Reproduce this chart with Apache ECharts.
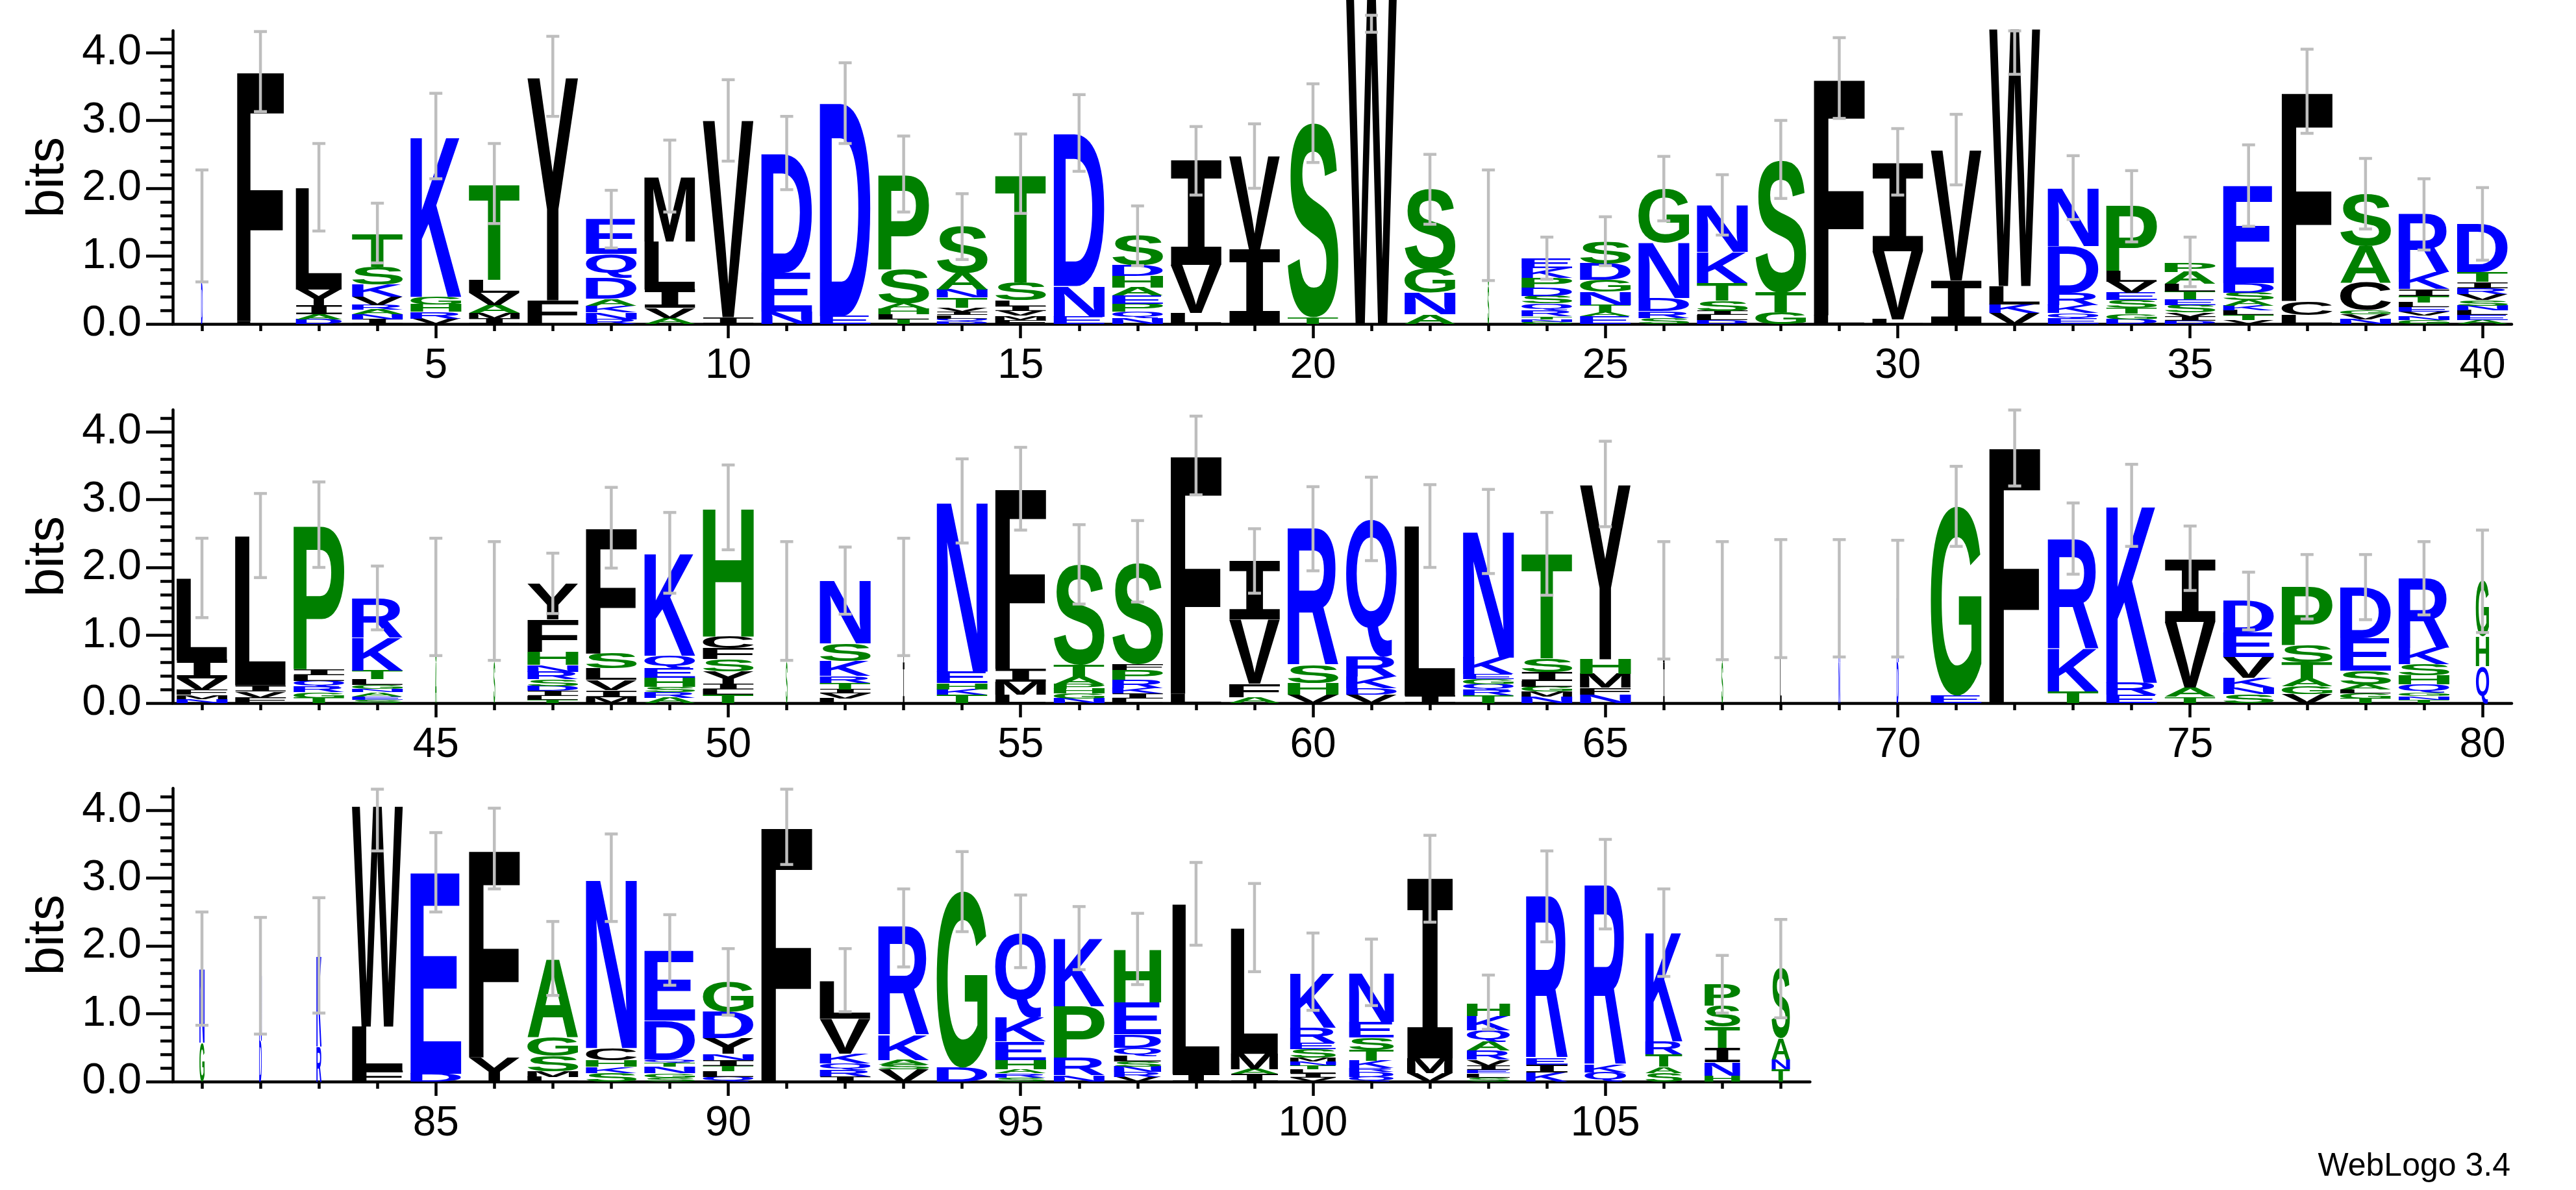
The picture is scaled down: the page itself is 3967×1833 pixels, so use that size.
<!DOCTYPE html>
<html><head><meta charset="utf-8">
<script src="https://cdn.jsdelivr.net/npm/echarts@6/dist/echarts.min.js"></script>
<style>html,body{margin:0;padding:0;background:#fff}#chart{width:3967px;height:1833px}</style>
</head><body><div id="chart"></div>
<script>
const row1Positions = [1,2,3,4,5,6,7,8,9,10,11,12,13,14,15,16,17,18,19,20,21,22,23,24,25,26,27,28,29,30,31,32,33,34,35,36,37,38,39,40];
const row2Positions = [41,42,43,44,45,46,47,48,49,50,51,52,53,54,55,56,57,58,59,60,61,62,63,64,65,66,67,68,69,70,71,72,73,74,75,76,77,78,79,80];
const row3Positions = [81,82,83,84,85,86,87,88,89,90,91,92,93,94,95,96,97,98,99,100,101,102,103,104,105,106,107,108];

// letters of each stack, bottom -> top
const row1Letters = ["DG","LF","DAIYL","INARVKST","VRHGK","IMAVLT","FY","RNKADQE","AVILM","IV","NED","ED","TLHASP","DQLIVTNAS","FMVILST","END","NQPEAHDS","LVI","IV","TS","W","ANGS","SG","GNTRQSDPKE","EATNGDS","SRDNG","DLISTKN","GTS","LF","LVI","IV","VKLW","EQKRDN","DGTSEVLP","DIVSETLAP","VTLKASDE","LCF","NVGCAS","GNVELTIKR","AELNSVRITD"];
const row1Heights = [[0.6,0.85],[0.04,3.69],[0.07,0.07,0.13,0.24,1.49],[0.07,0.07,0.07,0.07,0.12,0.18,0.26,0.48],[0.08,0.1,0.11,0.11,2.36],[0.08,0.08,0.12,0.18,0.19,1.41],[0.35,3.28],[0.07,0.1,0.1,0.1,0.31,0.35,0.51],[0.09,0.15,0.27,0.71,0.945],[0.1,2.9],[0.18,0.575,1.75],[0.12,3.13],[0.07,0.07,0.08,0.08,0.5,1.39],[0.04,0.04,0.05,0.05,0.06,0.15,0.12,0.24,0.69],[0.06,0.06,0.07,0.07,0.09,0.26,1.575],[0.11,0.45,2.24],[0.09,0.09,0.12,0.117,0.117,0.176,0.154,0.44],[0.16,0.71,1.54],[1.1,1.37],[0.1,2.86],[4.85],[0.14,0.32,0.35,1.18],[0.55,0.88],[0.03,0.04,0.04,0.09,0.1,0.11,0.125,0.146,0.146,0.14],[0.11,0.06,0.11,0.2,0.17,0.24,0.33],[0.09,0.1,0.19,0.81,0.79],[0.06,0.07,0.06,0.15,0.26,0.46,0.685],[0.17,0.29,1.95],[0.13,3.49],[0.07,1.0,1.3],[0.64,1.92],[0.16,0.13,0.27,3.79],[0.08,0.08,0.12,0.18,0.685,0.85],[0.07,0.08,0.09,0.11,0.11,0.165,0.16,0.96],[0.05,0.06,0.06,0.11,0.08,0.12,0.11,0.18,0.135],[0.06,0.07,0.07,0.07,0.08,0.11,0.14,1.435],[0.135,0.205,3.08],[0.07,0.07,0.06,0.41,0.54,0.77],[0.06,0.06,0.06,0.07,0.07,0.095,0.1,0.24,0.86],[0.06,0.07,0.07,0.07,0.08,0.09,0.09,0.09,0.15,0.71]];
const row1ErrLow  = [0.62,3.13,1.37,0.90,2.14,1.48,3.06,1.12,1.65,2.40,1.98,2.66,1.65,0.95,1.63,2.25,0.86,1.90,2.00,2.38,4.30,1.47,0.64,0.66,0.86,1.52,1.31,1.85,3.03,1.90,2.05,3.68,1.54,1.21,0.55,1.44,2.81,1.40,1.09,0.94];
const row1ErrHigh = [2.27,4.31,2.66,1.78,3.40,2.66,4.24,1.97,2.71,3.60,3.06,3.85,2.77,1.92,2.80,3.38,1.74,2.91,2.95,3.54,4.55,2.50,2.27,1.28,1.58,2.47,2.20,3.00,4.22,2.88,3.09,4.32,2.48,2.26,1.28,2.64,4.05,2.44,2.14,2.01];
const row1Width = [0.03,0.92,0.91,1,1,1,1,1,1,1,1,1,1,1,1,1,1,1,1,1,1,1,0.03,1,1,1,1,1,1,1,1,1,1,1,1,1,1,1,1,1];

const row2Letters = ["NMFVIL","FVIL","TGRQLIP","SEANGLTKR","AG","SG","TLIDSRNHFY","MIVLSF","ARSHEQK","TLIYSFCH","SG","LVITRKSN","IV","TKHEN","LMIF","NGHPATS","LIKRPFS","LF","AFVI","VHSR","VDKRQ","IL","TRQGEKN","NMGLIST","NFMHY","IL","SG","LG","NK","DK","EG","F","TKR","ERK","TAVI","SNKVED","VGATSP","TGLASED","TNGQHSKR","QHG"];
const row2Heights = [[0.06,0.065,0.07,0.17,0.27,1.2],[0.08,0.09,0.09,2.2],[0.08,0.08,0.08,0.09,0.08,0.09,2.12],[0.05,0.05,0.06,0.05,0.06,0.08,0.13,0.48,0.58],[0.6,0.97],[0.6,0.9],[0.05,0.06,0.07,0.07,0.1,0.11,0.1,0.2,0.47,0.53],[0.09,0.1,0.15,0.17,0.22,1.85],[0.08,0.08,0.08,0.13,0.14,0.19,1.51],[0.12,0.085,0.08,0.185,0.18,0.16,0.17,1.89],[0.6,0.9],[0.07,0.07,0.06,0.1,0.1,0.22,0.256,0.92],[0.6,0.96],[0.12,0.085,0.09,0.17,2.5],[0.12,0.2,0.185,2.66],[0.07,0.07,0.07,0.07,0.116,0.17,1.47],[0.07,0.07,0.08,0.12,0.15,0.085,1.49],[0.137,3.52],[0.09,0.2,0.94,0.865],[0.12,0.17,0.27,2.02],[0.12,0.1,0.17,0.29,2.03],[0.11,2.5],[0.11,0.08,0.09,0.075,0.075,0.24,1.86],[0.1,0.07,0.07,0.085,0.13,0.205,1.545],[0.125,0.1,0.205,0.215,2.57],[0.6,0.92],[0.6,0.92],[0.7,0.84],[0.6,0.95],[0.6,0.95],[0.11,2.79],[3.78],[0.17,0.625,1.62],[0.12,0.18,2.61],[0.09,0.14,0.97,0.92],[0.13,0.1,0.145,0.3,0.37,0.47],[0.137,0.11,0.11,0.24,0.256,0.865],[0.07,0.07,0.06,0.07,0.205,0.48,0.75],[0.05,0.05,0.054,0.12,0.137,0.16,0.24,1.02],[0.55,0.43,0.82]];
const row2ErrLow  = [1.26,1.85,2.00,1.08,0.70,0.63,1.32,1.99,1.62,2.26,0.63,1.31,0.70,2.36,2.55,1.46,1.49,3.07,1.62,1.95,2.10,2.00,1.91,1.59,2.60,0.65,0.64,0.67,0.68,0.68,2.31,3.20,1.90,2.31,1.66,1.08,1.24,1.23,1.30,1.04];
const row2ErrHigh = [2.43,3.09,3.26,2.02,2.43,2.38,2.21,3.18,2.81,3.51,2.38,2.30,2.43,3.60,3.77,2.63,2.69,4.23,2.57,3.19,3.33,3.22,3.15,2.81,3.86,2.38,2.38,2.41,2.41,2.40,3.49,4.32,2.95,3.52,2.61,1.93,2.19,2.19,2.38,2.55];
const row2Width = [1,1,1,1,0.03,0.03,1,1,1,1,0.03,1,0.03,1,1,1,1,1,1,1,1,1,1,1,1,0.03,0.03,0.03,0.03,0.04,1,1,1,1,1,1,1,1,1,0.26];

const row3Letters = ["GN","DN","RK","FLW","DE","YF","LMSGA","SKHCN","SGNTQDE","QLTINYDG","F","IRQKVL","VSAKR","DG","SRAHEKQ","NRPK","VRNSLQDEH","IL","IAML","VILTNMSERK","QDRKTSEN","VMI","SLEIVRAQKH","KIER","QKR","SATRK","HNITSP","TNAS"];
const row3Heights = [[0.57,1.09],[0.6,0.96],[0.52,1.33],[0.16,0.65,3.25],[0.116,2.96],[0.356,3.06],[0.07,0.08,0.225,0.28,1.15],[0.126,0.09,0.1,0.18,2.485],[0.06,0.06,0.1,0.06,0.05,0.565,1.03],[0.07,0.08,0.08,0.09,0.09,0.23,0.386,0.445],[3.76],[0.075,0.1,0.09,0.147,0.52,0.554],[0.18,0.07,0.07,0.37,1.6],[0.205,2.6],[0.06,0.06,0.06,0.14,0.27,0.36,1.245],[0.09,0.263,0.76,1.0],[0.07,0.07,0.08,0.08,0.08,0.12,0.195,0.47,0.78],[0.116,2.5],[0.11,0.07,0.23,1.85],[0.06,0.06,0.06,0.06,0.06,0.055,0.12,0.1,0.22,0.8],[0.07,0.07,0.06,0.11,0.16,0.18,0.23,0.71],[0.126,0.215,2.65],[0.06,0.06,0.05,0.06,0.09,0.137,0.13,0.17,0.21,0.19],[0.137,0.11,0.1,2.39],[0.137,0.11,2.65],[0.126,0.09,0.18,0.195,1.6],[0.09,0.195,0.215,0.31,0.31,0.32],[0.18,0.144,0.31,1.03]];
const row3ErrLow  = [0.83,0.70,1.01,3.40,2.50,2.84,1.27,2.36,1.42,0.98,3.20,1.03,1.69,2.21,1.68,1.65,1.43,2.01,1.62,1.05,1.12,2.35,0.77,2.06,2.25,1.55,1.01,0.94];
const row3ErrHigh = [2.50,2.42,2.71,4.31,3.67,4.03,2.36,3.65,2.46,1.96,4.31,1.96,2.84,3.39,2.75,2.58,2.48,3.23,2.92,2.19,2.10,3.63,1.57,3.40,3.57,2.84,1.86,2.39];
const row3Width = [0.1,0.05,0.1,1,1,1,1,1,1,1,1,1,1,1,1,1,0.93,0.93,0.93,0.9,0.88,0.9,0.85,0.82,0.82,0.73,0.7,0.36];

const yMajorTicks = [0,1,2,3,4];
const yMinorTicks = [0.2,0.4,0.6,0.8,1.2,1.4,1.6,1.8,2.2,2.4,2.6,2.8,3.2,3.4,3.6,3.8,4.2];
const Y_MAX = 4.3219;

// ---------------- STYLE / LAYOUT ----------------
const BLUE = '#0000FF', GREEN = '#008000', BLACK = '#000000';
function colorOf(ch){ return 'RKDENQ'.indexOf(ch) >= 0 ? BLUE : ('SGHTAP'.indexOf(ch) >= 0 ? GREEN : BLACK); }
const FONT_MAIN = 'bold 200px "Liberation Sans"';
const FONT_I = 'bold 200px "DejaVu Sans Mono"';
function fontOf(ch){ return ch === 'I' ? FONT_I : FONT_MAIN; }
const mctx = document.createElement('canvas').getContext('2d');
const inkCache = {};
function inkBox(ch){
  if (inkCache[ch]) return inkCache[ch];
  mctx.font = fontOf(ch); mctx.textBaseline = 'middle'; mctx.textAlign = 'left';
  const m = mctx.measureText(ch);
  const r = {l: m.actualBoundingBoxLeft, r: m.actualBoundingBoxRight, a: m.actualBoundingBoxAscent, d: m.actualBoundingBoxDescent};
  inkCache[ch] = r; return r;
}

const COL = 90.05, LEFT = 266, PX_PER_BIT = 104.5;
const zeroLines = [499, 1083, 1666];
const LETTER_FRAC = 0.87;
const AXIS_W = 4.5;

const rows = [
  {pos: row1Positions, letters: row1Letters, heights: row1Heights, lo: row1ErrLow, hi: row1ErrHigh, w: row1Width},
  {pos: row2Positions, letters: row2Letters, heights: row2Heights, lo: row2ErrLow, hi: row2ErrHigh, w: row2Width},
  {pos: row3Positions, letters: row3Letters, heights: row3Heights, lo: row3ErrLow, hi: row3ErrHigh, w: row3Width}
];

const grid = [], xAxis = [], yAxis = [], series = [];
rows.forEach((row, r) => {
  const gh = Y_MAX * PX_PER_BIT;
  grid.push({left: LEFT, top: zeroLines[r] - gh, width: row.pos.length * COL, height: gh, outerBoundsMode: 'none', containLabel: false});
  const cats = row.pos.map(String);
  const lineStyle = {color: BLACK, width: AXIS_W};
  xAxis.push({type: 'category', gridIndex: r, data: cats, boundaryGap: true, position: 'bottom',
    axisLine: {show: true, onZero: false, lineStyle},
    axisTick: {show: true, alignWithLabel: true, interval: 0, length: 11, lineStyle},
    axisLabel: {show: false}, splitLine: {show: false}, axisPointer: {show: false}});
  xAxis.push({type: 'category', gridIndex: r, data: cats, boundaryGap: true, position: 'bottom',
    axisLine: {show: false, onZero: false},
    axisTick: {show: true, alignWithLabel: true, interval: (i, v) => (+v) % 5 === 0, length: 22, lineStyle},
    axisLabel: {show: true, interval: (i, v) => (+v) % 5 === 0, fontSize: 64, fontFamily: 'Liberation Sans', color: BLACK, margin: 33},
    splitLine: {show: false}});
  yAxis.push({type: 'value', gridIndex: r, min: 0, max: Y_MAX, position: 'left',
    axisLine: {show: true, onZero: false, lineStyle},
    axisTick: {show: true, length: 41, customValues: yMajorTicks, lineStyle},
    axisLabel: {show: true, customValues: yMajorTicks, formatter: v => Number(v).toFixed(1), fontSize: 66, fontFamily: 'Liberation Sans', color: BLACK, margin: 48},
    splitLine: {show: false},
    name: 'bits', nameLocation: 'middle', nameRotate: 90, nameGap: 145,
    nameTextStyle: {fontSize: 80, fontFamily: 'Liberation Sans', color: BLACK}});
  yAxis.push({type: 'value', gridIndex: r, min: 0, max: Y_MAX, position: 'left',
    axisLine: {show: false},
    axisTick: {show: true, length: 19, customValues: yMinorTicks, lineStyle},
    axisLabel: {show: false}, splitLine: {show: false}});

  // flatten letters of this row
  const items = [];
  row.pos.forEach((p, i) => {
    const letters = row.letters[i], hs = row.heights[i];
    let acc = 0;
    for (let k = 0; k < Math.min(letters.length, hs.length); k++) {
      items.push({cat: i, y0: acc, y1: acc + hs[k], ch: letters[k], wf: row.w[i]});
      acc += hs[k];
    }
  });
  series.push({
    type: 'custom', xAxisIndex: r * 2, yAxisIndex: r * 2, clip: false, silent: true, z: 2,
    data: items.map(it => [it.cat, it.y0, it.y1]),
    renderItem(params, api) {
      const it = items[params.dataIndex];
      const pb = api.coord([it.cat, it.y0]);
      const pt = api.coord([it.cat, it.y1]);
      const band = api.size([1, 0])[0];
      const W = Math.max(band * LETTER_FRAC * it.wf, 2.4);
      const H = pb[1] - pt[1];
      if (H < 0.3) return null;
      const mb = inkBox(it.ch);
      const sx = W / (mb.l + mb.r), sy = H / (mb.a + mb.d);
      const X = pb[0] - W / 2, Y = pt[1];
      return {type: 'text', x: X + mb.l * sx, y: Y + mb.a * sy, scaleX: sx, scaleY: sy,
        style: {text: it.ch, font: fontOf(it.ch), fill: colorOf(it.ch), align: 'left', verticalAlign: 'middle', legacy: false}};
    }
  });
  // error bars
  series.push({
    type: 'custom', xAxisIndex: r * 2, yAxisIndex: r * 2, clip: false, silent: true, z: 5,
    data: row.pos.map((p, i) => [i, row.lo[i], row.hi[i]]),
    renderItem(params, api) {
      const c = api.value(0);
      const a = api.coord([c, api.value(1)]), b = api.coord([c, api.value(2)]);
      const x = a[0], hw = 10;
      const st = {stroke: '#BEBEBE', lineWidth: 4.5};
      return {type: 'group', children: [
        {type: 'line', shape: {x1: x, y1: a[1], x2: x, y2: b[1]}, style: st},
        {type: 'line', shape: {x1: x - hw, y1: a[1], x2: x + hw, y2: a[1]}, style: st},
        {type: 'line', shape: {x1: x - hw, y1: b[1], x2: x + hw, y2: b[1]}, style: st}
      ]};
    }
  });
});

const chart = echarts.init(document.getElementById('chart'), null, {renderer: 'canvas'});
chart.setOption({
  animation: false,
  backgroundColor: '#ffffff',
  grid, xAxis, yAxis, series,
  graphic: [{type: 'text', right: 101, top: 1772, style: {text: 'WebLogo 3.4', font: '50px "Liberation Sans"', fill: BLACK}}]
});
</script></body></html>
